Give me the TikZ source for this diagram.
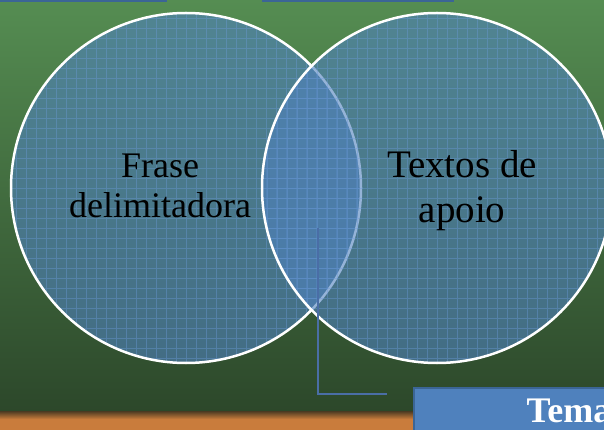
\documentclass[tikz,border=0pt]{standalone}
\usepackage{fontspec}
\setmainfont{Liberation Serif}
\usetikzlibrary{positioning}
\definecolor{cBoardTop}{HTML}{558D52}
\definecolor{cBoardBot}{HTML}{2C472A}
\definecolor{cWood}{HTML}{C97C3C}
\definecolor{cWoodDark}{HTML}{4A3A22}
\definecolor{cBlue}{HTML}{4F81BD}
\definecolor{cBlueEdge}{HTML}{3B6596}
\definecolor{cGridLine}{HTML}{6C9BDA}
\definecolor{cLink}{HTML}{4A6EA6}
\tikzset{
  ring/.style={circle, draw=white, line width=2.5pt, fill=cBlue, fill opacity=0.6,
               minimum size=350pt, inner sep=0pt,
               path picture={\draw[cGridLine, line width=0.6pt, draw opacity=0.4, step=10pt]
                 (path picture bounding box.south west) grid (path picture bounding box.north east);}},
  lbl/.style={text=black, align=center, inner sep=0pt},
  tabbox/.style={draw=cBlueEdge, fill=cBlue, line width=1.5pt},
  temabox/.style={draw=cBlueEdge, fill=cBlue, line width=2pt, text=white,
                  font=\fontsize{36}{40}\selectfont\bfseries, inner sep=0pt},
  link/.style={draw=cLink, line width=2pt},
}
\begin{document}
\begin{tikzpicture}[x=1pt, y=-1pt]
  \useasboundingbox (0,0) rectangle (604,430);
  \clip (0,0) rectangle (604,430);
  % board and ledge
  \shade[top color=cBoardTop, bottom color=cBoardBot] (0,0) rectangle (604,414);
  \shade[top color=cWoodDark, bottom color=cWood] (0,411) rectangle (604,419);
  \fill[cWood] (0,419) rectangle (604,430);
  \draw[tabbox] (-5,-30) rectangle (166,1);
  \draw[tabbox] (263,-30) rectangle (453,1);
  % circles
  \node[ring] (frase) at (186,188) {};
  \node[ring] (apoio) at (437,188) {};
  \node[lbl, font=\fontsize{36}{40}\selectfont] (fraseTxt) at (160,186) {Frase\\delimitadora};
  \node[lbl, font=\fontsize{39}{45}\selectfont] (apoioTxt) at (462,191) {Textos de\\apoio};
  % theme box
  \node[temabox, anchor=north west, minimum width=310pt, minimum height=46pt] (tema) at (413,387) {Tema};
  \coordinate (hub) at (318,228);
  \coordinate (tip) at (387,394);
  \draw[link] (hub) |- (tip);
\end{tikzpicture}
\end{document}
